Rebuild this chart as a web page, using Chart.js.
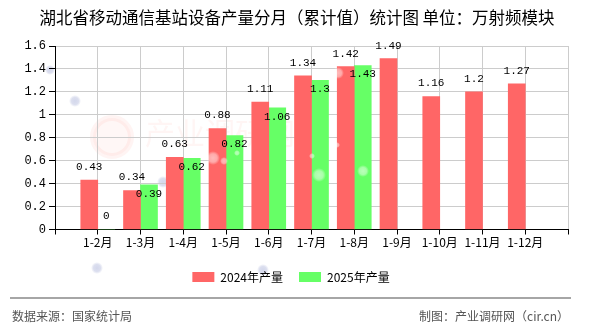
<!DOCTYPE html>
<html>
<head>
<meta charset="utf-8">
<script src="https://cdn.jsdelivr.net/npm/chart.js@4/dist/chart.umd.min.js"></script>
<style>
  html, body { margin: 0; padding: 0; background: #fff; }
  #wrap { position: relative; width: 590px; height: 330px; }
</style>
</head>
<body>
<div id="wrap"><canvas id="myChart" width="590" height="330"></canvas></div>
<script>
const months = ["1-2月", "1-3月", "1-4月", "1-5月", "1-6月", "1-7月", "1-8月", "1-9月", "1-10月", "1-11月", "1-12月"];
const output2024 = [0.43, 0.34, 0.63, 0.88, 1.11, 1.34, 1.42, 1.49, 1.16, 1.2, 1.27];
const output2025 = [0, 0.39, 0.62, 0.82, 1.06, 1.3, 1.43];
const yTicks = [0, 0.2, 0.4, 0.6, 0.8, 1, 1.2, 1.4, 1.6];

const titleText = "湖北省移动通信基站设备产量分月（累计值）统计图 单位：万射频模块";
const sourceText = "数据来源：国家统计局";
const makerText = "制图：产业调研网（cir.cn）";
const markText = "产业调研网";

// one empty slot on each side so the gridlines run through the bar pairs
const pad = (arr) => {
    let out = [null];
    for (let i = 0; i < months.length; i++) {
        out.push(i < arr.length ? arr[i] : null);
    }
    out.push(null);
    return out;
};
const labels = [""].concat(months, [""]);

const numFont = '"Liberation Mono", "DejaVu Sans Mono", monospace';
const cjkFont = '"Noto Sans CJK SC", "Noto Sans", sans-serif';

const softDot = (ctx, x, y, r, rgb, a) => {
    const g = ctx.createRadialGradient(x, y, 0, x, y, r);
    g.addColorStop(0, "rgba(" + rgb + "," + a + ")");
    g.addColorStop(0.6, "rgba(" + rgb + "," + a * 0.8 + ")");
    g.addColorStop(1, "rgba(" + rgb + ",0)");
    ctx.fillStyle = g;
    ctx.beginPath();
    ctx.arc(x, y, r, 0, Math.PI * 2);
    ctx.fill();
};

// value text over each bar (2025 labels sit just inside the bar top)
const valueLabels = {
    id: "valueLabels",
    afterDatasetsDraw(chart) {
        const ctx = chart.ctx;
        ctx.save();
        // light bubbles floating over the bars
        const bubbles = [[213, 158, 7], [224, 161, 4], [237, 153, 3], [312, 156, 3], [319, 175, 7], [337, 145, 3], [363, 171, 6], [338, 73, 6]];
        bubbles.forEach(([x, y, r]) => softDot(ctx, x, y, r, "255,255,255", 0.55));

        ctx.font = "11px " + numFont;
        ctx.fillStyle = "#000";
        ctx.textAlign = "center";
        ctx.textBaseline = "middle";
        chart.data.datasets.forEach((ds, di) => {
            const meta = chart.getDatasetMeta(di);
            meta.data.forEach((bar, i) => {
                const v = ds.data[i];
                if (v === null || v === undefined) return;
                let y = bar.y - 13;
                if (di === 1 && v > 0) y = bar.y + 9;
                ctx.fillText(String(v), bar.x, y);
            });
        });
        ctx.restore();
    }
};

// title, footer rule and footer texts
const frame = {
    id: "frame",
    beforeDraw(chart) {
        const ctx = chart.ctx;
        ctx.save();
        ctx.fillStyle = "#fff";
        ctx.fillRect(0, 0, chart.width, chart.height);
        // faint background dots
        const dots = [[50, 70, 5], [75, 101, 6], [163, 182, 6], [97, 268, 6], [263, 270, 6], [472, 142, 4]];
        dots.forEach(([x, y, r]) => softDot(ctx, x, y, r, "200,205,230", 0.8));
        // pale watermark
        ctx.strokeStyle = "rgba(255,120,100,0.08)";
        ctx.fillStyle = "rgba(255,120,100,0.06)";
        ctx.lineWidth = 6;
        ctx.beginPath();
        ctx.arc(112, 137, 19, 0, Math.PI * 2);
        ctx.stroke();
        ctx.fill();
        ctx.font = "30px " + cjkFont;
        ctx.textBaseline = "middle";
        ctx.fillStyle = "rgba(255,120,100,0.07)";
        ctx.fillText(markText, 145, 133);
        ctx.restore();
    },
    afterDraw(chart) {
        const ctx = chart.ctx;
        ctx.save();
        ctx.fillStyle = "#000";
        ctx.textAlign = "center";
        ctx.textBaseline = "middle";
        ctx.font = "16.5px " + cjkFont;
        ctx.fillText(titleText, 297, 18);

        ctx.strokeStyle = "#888";
        ctx.lineWidth = 1.5;
        ctx.beginPath();
        ctx.moveTo(10, 298);
        ctx.lineTo(571, 298);
        ctx.stroke();

        ctx.fillStyle = "#555";
        ctx.font = "12px " + cjkFont;
        ctx.textAlign = "left";
        ctx.fillText(sourceText, 12, 316);
        ctx.textAlign = "right";
        ctx.fillText(makerText, 569, 316);
        ctx.restore();
    }
};

const data = {
    labels: labels,
    datasets: [
        {
            label: "2024年产量",
            data: pad(output2024),
            backgroundColor: "#ff6666",
            barThickness: 17,
        },
        {
            label: "2025年产量",
            data: pad(output2025),
            backgroundColor: "#66ff66",
            barThickness: 17,
        },
    ],
};

const config = {
    type: "bar",
    data: data,
    options: {
        responsive: false,
        animation: false,
        layout: {
            padding: { top: 46, right: 22, bottom: 37, left: 14 },
        },
        plugins: {
            title: { display: false },
            tooltip: { enabled: false },
            legend: {
                position: "bottom",
                labels: {
                    boxWidth: 22,
                    boxHeight: 10,
                    padding: 16,
                    color: "#000",
                    font: { size: 12, family: cjkFont },
                },
            },
        },
        scales: {
            x: {
                offset: false,
                grid: {
                    offset: false,
                    color: "#cccccc",
                    tickColor: "#000",
                    tickLength: 5,
                },
                border: { color: "#000", width: 1 },
                ticks: {
                    color: "#000",
                    padding: 1,
                    maxRotation: 0,
                    autoSkip: false,
                    font: { size: 12, family: cjkFont },
                },
                afterFit: (scale) => { scale.height = 25.5; },
            },
            y: {
                min: yTicks[0],
                max: yTicks[yTicks.length - 1],
                afterBuildTicks: (scale) => {
                    scale.ticks = yTicks.map((v) => ({ value: v }));
                },
                grid: {
                    color: "#cccccc",
                    tickColor: "#000",
                    tickLength: 6,
                },
                border: { color: "#000", width: 1 },
                ticks: {
                    color: "#000",
                    padding: 3,
                    font: { size: 12, family: numFont },
                    callback: (v) => String(Number(v.toFixed(1))),
                },
                afterFit: (scale) => { scale.width = 41; },
            },
        },
    },
    plugins: [frame, valueLabels],
};

const myChart = new Chart(document.getElementById("myChart"), config);
</script>
</body>
</html>
